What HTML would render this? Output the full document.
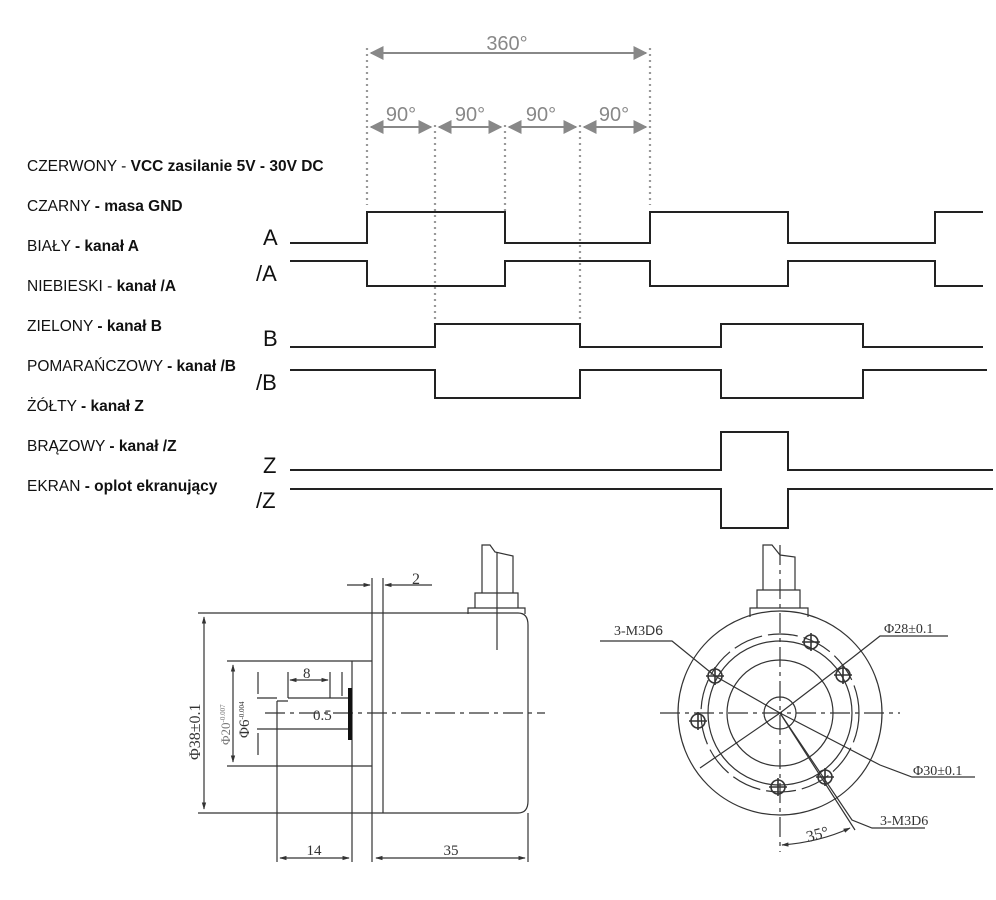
<!DOCTYPE html>
<html><head><meta charset="utf-8"><style>
html,body{margin:0;padding:0;background:#fff;}
svg{display:block}
.t{font-family:"Liberation Sans",sans-serif;font-size:15.5px;fill:#111}
.b{font-weight:bold}
.L{font-family:"Liberation Sans",sans-serif;font-size:22px;fill:#111}
.g{font-family:"Liberation Sans",sans-serif;font-size:20px;fill:#888}
.d{font-family:"Liberation Serif",serif;fill:#333}
</style></head><body>
<svg width="996" height="900" viewBox="0 0 996 900" xmlns="http://www.w3.org/2000/svg">
<defs>
<marker id="ga" viewBox="0 0 10 10" refX="9" refY="5" markerWidth="7" markerHeight="7" orient="auto-start-reverse"><path d="M0,0L10,5L0,10z" fill="#888"/></marker>
<marker id="ka" viewBox="0 0 10 10" refX="9" refY="5" markerWidth="6" markerHeight="6" orient="auto-start-reverse"><path d="M0,2L10,5L0,8z" fill="#333"/></marker>
</defs>
<g class="t">
<text x="27" y="171">CZERWONY - <tspan class="b">VCC zasilanie 5V - 30V DC</tspan></text>
<text x="27" y="211">CZARNY <tspan class="b">- masa GND</tspan></text>
<text x="27" y="251">BIAŁY <tspan class="b">- kanał A</tspan></text>
<text x="27" y="291">NIEBIESKI - <tspan class="b">kanał /A</tspan></text>
<text x="27" y="331">ZIELONY <tspan class="b">- kanał B</tspan></text>
<text x="27" y="371">POMARAŃCZOWY <tspan class="b">- kanał /B</tspan></text>
<text x="27" y="411">ŻÓŁTY <tspan class="b">- kanał Z</tspan></text>
<text x="27" y="451">BRĄZOWY <tspan class="b">- kanał /Z</tspan></text>
<text x="27" y="491">EKRAN <tspan class="b">- oplot ekranujący</tspan></text>
</g>
<g class="L">
<text x="263" y="245">A</text><text x="256" y="281">/A</text>
<text x="263" y="346">B</text><text x="256" y="390">/B</text>
<text x="263" y="473">Z</text><text x="256" y="508">/Z</text>
</g>
<g stroke="#999" stroke-width="2.2" stroke-dasharray="2,4" fill="none">
<line x1="367" y1="48" x2="367" y2="205"/>
<line x1="650" y1="48" x2="650" y2="205"/>
<line x1="435" y1="125" x2="435" y2="325"/>
<line x1="505" y1="125" x2="505" y2="212"/>
<line x1="580" y1="125" x2="580" y2="325"/>
</g>
<g stroke="#888" stroke-width="2" fill="none">
<line x1="371" y1="53" x2="646" y2="53" marker-start="url(#ga)" marker-end="url(#ga)"/>
<line x1="371" y1="127" x2="431" y2="127" marker-start="url(#ga)" marker-end="url(#ga)"/>
<line x1="439" y1="127" x2="501" y2="127" marker-start="url(#ga)" marker-end="url(#ga)"/>
<line x1="509" y1="127" x2="576" y2="127" marker-start="url(#ga)" marker-end="url(#ga)"/>
<line x1="584" y1="127" x2="646" y2="127" marker-start="url(#ga)" marker-end="url(#ga)"/>
</g>
<g class="g">
<text x="507" y="50" text-anchor="middle">360°</text>
<text x="401" y="121" text-anchor="middle">90°</text>
<text x="470" y="121" text-anchor="middle">90°</text>
<text x="541" y="121" text-anchor="middle">90°</text>
<text x="614" y="121" text-anchor="middle">90°</text>
</g>
<g stroke="#222" stroke-width="2" fill="none">
<polyline points="290,243 367,243 367,212 505,212 505,243 650,243 650,212 788,212 788,243 935,243 935,212 983,212"/>
<polyline points="290,261 367,261 367,286 505,286 505,261 650,261 650,286 788,286 788,261 935,261 935,286 983,286"/>
<polyline points="290,347 435,347 435,324 580,324 580,347 721,347 721,324 863,324 863,347 983,347"/>
<polyline points="290,370 435,370 435,398 580,398 580,370 721,370 721,398 863,398 863,370 987,370"/>
<polyline points="290,470 721,470 721,432 788,432 788,470 993,470"/>
<polyline points="290,489 721,489 721,528 788,528 788,489 993,489"/>
</g>
<g stroke="#333" stroke-width="1.2" fill="none">
<path d="M383,613 H518 Q528,613 528,625 V801 Q528,813 518,813 H383"/>
<line x1="372" y1="578" x2="372" y2="862"/>
<line x1="383" y1="578" x2="383" y2="813"/>
<line x1="198" y1="613" x2="383" y2="613"/>
<line x1="198" y1="813" x2="383" y2="813"/>
<line x1="204" y1="617" x2="204" y2="809" marker-start="url(#ka)" marker-end="url(#ka)"/>
<line x1="227" y1="661" x2="372" y2="661"/>
<line x1="227" y1="766" x2="372" y2="766"/>
<line x1="352" y1="661" x2="352" y2="862"/>
<line x1="233" y1="665" x2="233" y2="762" marker-start="url(#ka)" marker-end="url(#ka)"/>
<path d="M288,698 H350 M277,701 V729 H350 M277,701 H288"/>
<line x1="277" y1="729" x2="277" y2="862"/>
<line x1="257" y1="698" x2="277" y2="698"/><line x1="257" y1="729" x2="277" y2="729"/>
<line x1="258" y1="672" x2="258" y2="694" /><line x1="258" y1="733" x2="258" y2="755"/>
<line x1="288" y1="672" x2="288" y2="698"/><line x1="330" y1="672" x2="330" y2="698"/>
<line x1="290" y1="680" x2="328" y2="680" marker-start="url(#ka)" marker-end="url(#ka)"/>
<line x1="342" y1="672" x2="342" y2="696"/>
<line x1="280" y1="858" x2="349" y2="858" marker-start="url(#ka)" marker-end="url(#ka)"/>
<line x1="376" y1="858" x2="525" y2="858" marker-start="url(#ka)" marker-end="url(#ka)"/>
<line x1="528" y1="813" x2="528" y2="862"/>
<line x1="347" y1="585" x2="370" y2="585" marker-end="url(#ka)"/>
<line x1="432" y1="585" x2="385" y2="585" marker-end="url(#ka)"/>
<line x1="265" y1="713" x2="545" y2="713" stroke-dasharray="20,5,4,5"/>
<path d="M468,614 V608 H525 V614 M475,608 V593 H518 V608 M482,593 V545 L490,545 L495,552 L513,556 V593"/>
<line x1="497" y1="552" x2="497" y2="650"/>
</g>
<rect x="348" y="688" width="4" height="52" fill="#111"/>
<g class="d">
<text x="412" y="584" font-size="16">2</text>
<text x="303" y="678" font-size="15">8</text>
<text x="313" y="720" font-size="15">0.5</text>
<text x="314" y="855" font-size="15" text-anchor="middle">14</text>
<text x="451" y="855" font-size="15" text-anchor="middle">35</text>
<text transform="translate(200,760) rotate(-90)" font-size="16">Φ38±0.1</text>
<text transform="translate(230,745) rotate(-90)" font-size="13" fill="#777">Φ20<tspan font-size="7" dy="-5">-0.007</tspan></text>
<text transform="translate(249,738) rotate(-90)" font-size="15">Φ6<tspan font-size="7" dy="-5">-0.004</tspan></text>
</g>
<g stroke="#333" stroke-width="1.2" fill="none">
<circle cx="780" cy="713" r="102"/>
<circle cx="780" cy="713" r="72"/>
<circle cx="780" cy="713" r="53"/>
<circle cx="780" cy="713" r="16"/>
<circle cx="780" cy="713" r="79" stroke-dasharray="30,6" />
<line x1="660" y1="713" x2="900" y2="713" stroke-dasharray="20,5,4,5"/>
<line x1="780" y1="545" x2="780" y2="852" stroke-dasharray="20,5,4,5"/>
<path d="M750,617 V608 H808 V617 M757,608 V590 H800 V608 M763,590 V545 L772,545 L780,555 L795,557 V590"/>
<g stroke-width="1.6">
<circle cx="715" cy="676" r="7"/><circle cx="698" cy="721" r="7"/><circle cx="778" cy="787" r="7"/>
<circle cx="825" cy="777" r="7"/><circle cx="843" cy="675" r="7"/><circle cx="811" cy="642" r="7"/>
<path d="M706,676h18M715,667v18M689,721h18M698,712v18M769,787h18M778,778v18M816,777h18M825,768v18M834,675h18M843,666v18M802,642h18M811,633v18"/>
</g>
<polyline points="600,641 672,641 715,676 780,713 880,765 912,777 975,777"/>
<polyline points="700,768 780,713 852,658 880,636 948,636"/>
<polyline points="780,713 852,820 872,828 925,828"/>
<line x1="780" y1="713" x2="855" y2="830"/>
<path d="M782,845 Q820,842 850,828" marker-start="url(#ka)" marker-end="url(#ka)"/>
</g>
<g class="d" font-size="14">
<text x="614" y="635">3-M3<tspan font-family="Liberation Sans">D6</tspan></text>
<text x="884" y="633">Φ28±0.1</text>
<text x="913" y="775">Φ30±0.1</text>
<text x="880" y="825">3-M3D6</text>
<text x="806" y="840" font-size="16" transform="rotate(-15,815,834)">35°</text>
</g>
</svg>
</body></html>
